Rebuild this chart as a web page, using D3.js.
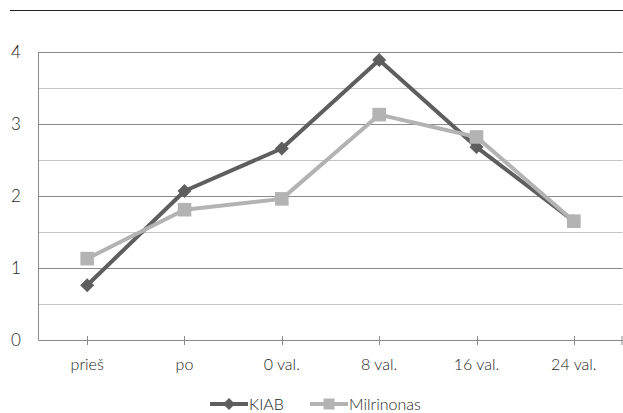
<!DOCTYPE html>
<html><head><meta charset="utf-8">
<script src="https://cdn.jsdelivr.net/npm/d3@7"></script>
<style>body{margin:0;background:#fff}svg{display:block}text{font-family:Lato,"Open Sans",sans-serif;fill:#262626}</style>
</head><body>
<svg id="c" width="623" height="413"></svg>
<script>
const categories = ["prieš","po","0 val.","8 val.","16 val.","24 val."];
const kiab = [0.76, 2.07, 2.66, 3.89, 2.68, 1.65];
const milrinonas = [1.13, 1.81, 1.96, 3.13, 2.82, 1.65];
const yTicks = [0,1,2,3,4];
const yMinor = [0.5,1.5,2.5,3.5];
const seriesNames = ["KIAB","Milrinonas"];

const svg = d3.select("#c");
const L=38.5, R=622.5, T=52, B=340;
const x = d3.scaleBand().domain(categories).range([L,R]);
const y = d3.scaleLinear().domain([0,4]).range([B,T]);
const cx = d => x(d)+x.bandwidth()/2;

// top rule
svg.append("line").attr("x1",10).attr("x2",623).attr("y1",10.5).attr("y2",10.5).attr("stroke","#222").attr("stroke-width",1.2);

// grid
svg.append("g").selectAll("line").data(yMinor).join("line")
  .attr("x1",L).attr("x2",R).attr("y1",d=>Math.round(y(d))+0.5).attr("y2",d=>Math.round(y(d))+0.5)
  .attr("stroke","#c4c4c4").attr("stroke-width",1);
svg.append("g").selectAll("line").data(yTicks.filter(d=>d>0)).join("line")
  .attr("x1",L).attr("x2",R).attr("y1",d=>Math.round(y(d))+0.5).attr("y2",d=>Math.round(y(d))+0.5)
  .attr("stroke","#8a8a8a").attr("stroke-width",1);

// y axis line
svg.append("line").attr("x1",L).attr("x2",L).attr("y1",T).attr("y2",B).attr("stroke","#8a8a8a");
// x axis
svg.append("line").attr("x1",L).attr("x2",R).attr("y1",B+0.5).attr("y2",B+0.5).attr("stroke","#8a8a8a");
svg.append("g").selectAll("line").data(categories).join("line")
  .attr("x1",d=>Math.round(cx(d))+0.5).attr("x2",d=>Math.round(cx(d))+0.5).attr("y1",B-4).attr("y2",B+5)
  .attr("stroke","#8a8a8a");
svg.append("line").attr("x1",R-0.5).attr("x2",R-0.5).attr("y1",B-4).attr("y2",B+5).attr("stroke","#8a8a8a");

// y labels
svg.append("g").selectAll("text").data(yTicks).join("text")
  .attr("x",16).attr("y",d=>y(d)).attr("dy","0.36em").attr("text-anchor","middle")
  .attr("font-size",17).attr("font-weight",300).text(d=>d);
// x labels
svg.append("g").selectAll("text").data(categories).join("text")
  .attr("x",d=>cx(d)).attr("y",370).attr("text-anchor","middle")
  .attr("font-size",16).attr("font-weight",300).text(d=>d);

const line = d3.line().x((d,i)=>cx(categories[i])).y(d=>y(d));
const diamondPath = r => `M0,${-r}L${r},0L0,${r}L${-r},0Z`;
const squarePath = r => `M${-r},${-r}H${r}V${r}H${-r}Z`;

function drawSeries(vals,color,sym){
  svg.append("path").datum(vals).attr("d",line).attr("fill","none").attr("stroke",color).attr("stroke-width",4).attr("stroke-linejoin","round");
  svg.append("g").selectAll("path").data(vals).join("path")
    .attr("d",sym).attr("transform",(d,i)=>`translate(${cx(categories[i])},${y(d)})`).attr("fill",color);
}
drawSeries(kiab,"#5e5e5e",diamondPath(7));
drawSeries(milrinonas,"#b3b3b3",squarePath(6.8));

// legend
const leg=[{n:seriesNames[0],c:"#5e5e5e",s:diamondPath(6),x:210},{n:seriesNames[1],c:"#b3b3b3",s:squarePath(5.5),x:310}];
leg.forEach(l=>{
  svg.append("line").attr("x1",l.x).attr("x2",l.x+38).attr("y1",404).attr("y2",404).attr("stroke",l.c).attr("stroke-width",4);
  svg.append("path").attr("d",l.s).attr("transform",`translate(${l.x+19},404)`).attr("fill",l.c);
  svg.append("text").attr("x",l.x+39).attr("y",404).attr("dy","0.35em").attr("font-size",16).attr("font-weight",300).text(l.n);
});
</script>
</body></html>
